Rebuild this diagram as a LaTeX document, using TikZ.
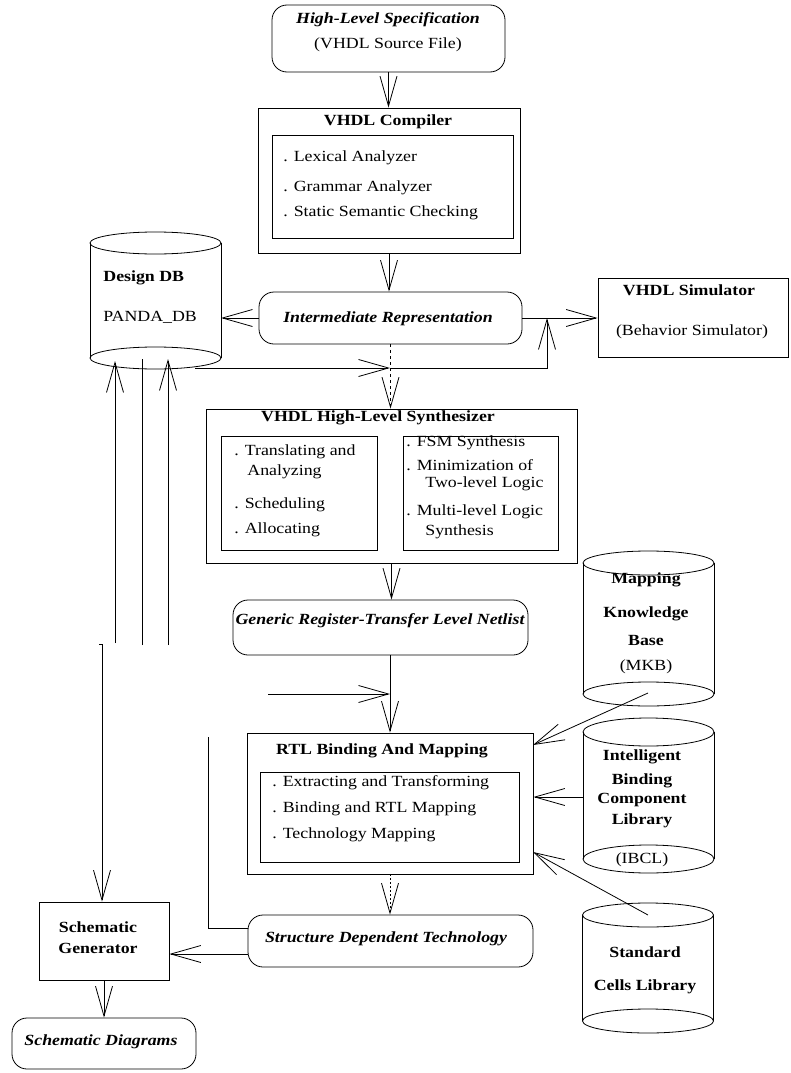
\documentclass[tikz,border=0pt]{standalone}
\usepackage{fontspec}
\setmainfont{Liberation Serif}[FakeStretch=1.15]
\usetikzlibrary{arrows.meta}
\newcommand\fs{\fontsize{15.5}{17}\selectfont}
\newcommand\cyl[4]{%
  \draw (#1-65.5,#2) -- (#1-65.5,#3);
  \draw (#1+65.5,#2) -- (#1+65.5,#3);
  \draw (#1,#2) ellipse[x radius=65.5, y radius=#4];
  \draw (#1,#3) ellipse[x radius=65.5, y radius=#4];}
\begin{document}
\begin{tikzpicture}[x=1pt,y=-1pt, line width=0.8pt,
  every node/.style={font=\fs, inner sep=0pt},
  box/.style={draw, rectangle, inner sep=0pt, line width=0.8pt},
  rbox/.style={box, rounded corners=15pt},
  arr/.style={-{Straight Barb[length=30pt,width=17pt]}},
  bt/.style={font=\fs\bfseries},
  bi/.style={font=\fs\bfseries\itshape},
  li/.style={anchor=west},
]
\useasboundingbox (0,0) rectangle (790,1073);

% High-level specification
\node[rbox, minimum width=233pt, minimum height=67pt] (hls) at (388.5,38.5) {};
\node[bi] (hlsA) at (388,20) {High-Level Specification};
\node (hlsB) at (388,45) {(VHDL Source File)};

% VHDL compiler
\node[box, minimum width=262pt, minimum height=145pt] (comp) at (389,180.5) {};
\node[box, minimum width=241pt, minimum height=103pt] (compin) at (392.5,186.5) {};
\node[bt] (compT) at (388,122) {VHDL Compiler};
\node[li] (c1) at (283,158) {. Lexical Analyzer};
\node[li] (c2) at (283,188) {. Grammar Analyzer};
\node[li] (c3) at (283,213) {. Static Semantic Checking};

% Intermediate representation
\node[rbox, minimum width=263pt, minimum height=52pt] (ir) at (390.5,318) {};
\node[bi] (irT) at (388,319) {Intermediate Representation};

% Design DB
\cyl{155.5}{243}{358}{11}
\node[bt, anchor=west] (dbA) at (103,278) {Design DB};
\node[anchor=west] (dbB) at (103,317) {PANDA\_DB};

% VHDL simulator
\node[box, minimum width=190pt, minimum height=79pt] (sim) at (693,317.5) {};
\node[bt] (simA) at (689,290) {VHDL Simulator};
\node (simB) at (692,332) {(Behavior Simulator)};

% High-level synthesizer
\node[box, minimum width=371pt, minimum height=154pt] (syn) at (391.5,486) {};
\node[box, minimum width=156pt, minimum height=114pt] (synL) at (299,493) {};
\node[box, minimum width=155pt, minimum height=114pt] (synR) at (480.5,493) {};
\node[bt] (synT) at (378,418) {VHDL High-Level Synthesizer};
\node[li] (s1) at (234,452) {. Translating and};
\node[li] (s2) at (247,472) {Analyzing};
\node[li] (s3) at (234,505) {. Scheduling};
\node[li] (s4) at (234,530) {. Allocating};
\node[li] (r1) at (406,443) {. FSM Synthesis};
\node[li] (r2) at (406,465) {. Minimization of};
\node[li] (r3) at (425,484) {Two-level Logic};
\node[li] (r4) at (406,512) {. Multi-level Logic};
\node[li] (r5) at (425,532) {Synthesis};

% Generic RTL netlist
\node[rbox, minimum width=295pt, minimum height=55pt] (grtl) at (380.5,627.5) {};
\node[bi] (grtlT) at (380,621) {Generic Register-Transfer Level Netlist};

% RTL binding and mapping
\node[box, minimum width=286pt, minimum height=141pt] (rtl) at (390,803.5) {};
\node[box, minimum width=259pt, minimum height=90pt] (rtlin) at (389.5,817) {};
\node[bt] (rtlT) at (382,751) {RTL Binding And Mapping};
\node[li] (t1) at (272,783) {. Extracting and Transforming};
\node[li] (t2) at (272,809) {. Binding and RTL Mapping};
\node[li] (t3) at (272,835) {. Technology Mapping};

% Structure dependent technology
\node[rbox, minimum width=285pt, minimum height=52pt] (sdt) at (390.5,941) {};
\node[bi] (sdtT) at (386,939) {Structure Dependent Technology};

% Schematic generator and diagrams
\node[box, minimum width=130pt, minimum height=78pt] (sg) at (104,941) {};
\node[bt] (sgA) at (98,927) {Schematic};
\node[bt] (sgB) at (98,948) {Generator};
\node[rbox, minimum width=184pt, minimum height=51pt] (sd) at (104,1043.5) {};
\node[bi] (sdT) at (101,1042) {Schematic Diagrams};

% Right-hand libraries
\cyl{648.5}{563}{694}{12}
\node[bt] (mkA) at (646,580) {Mapping};
\node[bt] (mkB) at (646,614) {Knowledge};
\node[bt] (mkC) at (646,640) {Base};
\node (mkD) at (646,667) {(MKB)};

\cyl{648.5}{732}{859}{14}
\node[bt] (ibA) at (642,757) {Intelligent};
\node[bt] (ibB) at (642,781) {Binding};
\node[bt] (ibC) at (642,800) {Component};
\node[bt] (ibD) at (642,821) {Library};
\node (ibE) at (642,860) {(IBCL)};

\cyl{648}{915}{1021}{12}
\node[bt] (scA) at (645,952) {Standard};
\node[bt] (scB) at (645,987) {Cells Library};

% ---------- connectors ----------
\draw[arr] (hls.south) -- (hls.south |- comp.north);
\draw[arr] (comp.south) -- (comp.south |- ir.north);

\coordinate (dbE) at (221,318);
\draw[arr] (ir.west) -- (dbE);

\coordinate (jn) at (547,318);
\draw (ir.east) -- (jn);
\draw[arr] (jn) -- (jn -| sim.west);

\coordinate (dbSE) at (195,368);
\coordinate (mid) at (390,368);
\coordinate (jnb) at (547,368);
\draw[arr] (dbSE) -- (mid);
\draw[arr] (mid) -- (jnb) -- (jn);

\draw[arr, dashed] (ir.south) -- (ir.south |- syn.north);
\draw[arr] (syn.south) -- (syn.south |- grtl.north);
\draw[arr] (rtl.north |- grtl.south) -- (rtl.north);
\coordinate (fin) at (268,694);
\draw[arr] (fin) -- (fin -| rtl.north);
\draw[arr, dash pattern=on 2pt off 2pt] (rtl.south) -- (rtl.south |- sdt.north);

\coordinate (lt) at (208,737);
\coordinate (lb) at (208,928);
\draw (lt) -- (lb) -- (lb -| sdt.west);
\coordinate (sgin) at (248,954);
\draw[arr] (sgin) -- (sgin -| sg.east);
\draw[arr] (sg.south) -- (sg.south |- sd.north);

\coordinate (v1b) at (115,643); \coordinate (v1t) at (115,361);
\coordinate (v2b) at (142,645); \coordinate (v2t) at (142,359);
\coordinate (v3b) at (168,645); \coordinate (v3t) at (168,359);
\draw[arr] (v1b) -- (v1t);
\draw (v2b) -- (v2t);
\draw[arr] (v3b) -- (v3t);
\coordinate (gtop) at (99,644);
\coordinate (g1) at (102,644);
\draw[arr] (gtop) -- (g1) -- (g1 |- sg.north);

\coordinate (mkbO) at (648,693); \coordinate (mkbI) at (533,745);
\draw[arr] (mkbO) -- (mkbI);
\coordinate (ibO) at (583,797);
\draw[arr] (ibO) -- (ibO -| rtl.east);
\coordinate (scO) at (648,915); \coordinate (scI) at (533,852);
\draw[arr] (scO) -- (scI);
\end{tikzpicture}
\end{document}
